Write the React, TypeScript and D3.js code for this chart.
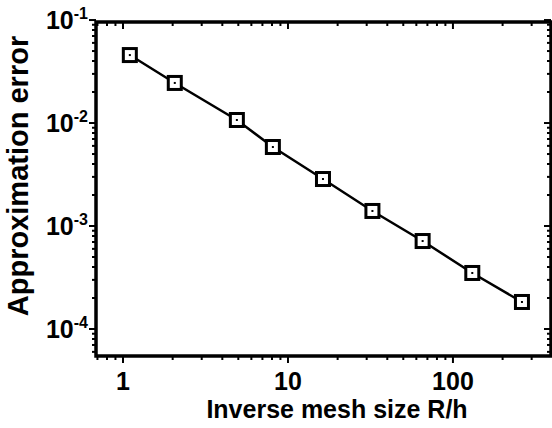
import React from "react";
import * as d3 from "d3";

const meshSizes = [1.1, 2.06, 4.9, 8.1, 16.3, 32.5, 65.5, 131, 262];
const errors = [0.0457, 0.0245, 0.0107, 0.00585, 0.00286, 0.0014, 0.000715, 0.00035, 0.000183];
const xTicks = [1, 10, 100];
const xTickLabels = ["1", "10", "100"];
const yTicks = [1e-1, 1e-2, 1e-3, 1e-4];
const yTickExps = ["-1", "-2", "-3", "-4"];
const xTitle = "Inverse mesh size R/h";
const yTitle = "Approximation error";

const W = 552;
const H = 428;
const L = 96, R = 551, T = 22, B = 356;
const FONT = "'Liberation Sans', Arial, sans-serif";

export default function App() {
  const x = d3.scaleLog().domain([0.686, 393]).range([L, R]);
  const y = d3.scaleLog().domain([5.47e-5, 0.0957]).range([B, T]);

  const xMinor: number[] = [];
  for (let d = 0.1; d <= 1000; d *= 10) {
    for (let k = 2; k <= 9; k++) {
      const v = d * k;
      if (v > 0.686 && v < 393) xMinor.push(v);
    }
  }
  const yMinor: number[] = [];
  for (let d = 1e-5; d <= 1; d *= 10) {
    for (let k = 2; k <= 9; k++) {
      const v = d * k;
      if (v > 5.47e-5 && v < 0.0957) yMinor.push(v);
    }
  }

  const line = d3
    .line<number>()
    .x((_, i) => x(meshSizes[i]))
    .y((d) => y(d));

  const major = 7, minor = 4;

  return (
    <svg
      width={W}
      height={H}
      style={{ position: "absolute", left: 0, top: 0, background: "#fff" }}
      fontFamily={FONT}
      fontWeight="bold"
    >
      <rect x={0} y={0} width={W} height={H} fill="#fff" />
      <g stroke="#000" strokeWidth={2}>
        {xTicks.map((t) => (
          <g key={"xt" + t}>
            <line x1={x(t)} x2={x(t)} y1={B} y2={B + major} />
            <line x1={x(t)} x2={x(t)} y1={T} y2={T + major} />
          </g>
        ))}
        {xMinor.map((t) => (
          <g key={"xm" + t}>
            <line x1={x(t)} x2={x(t)} y1={B} y2={B + minor} />
            <line x1={x(t)} x2={x(t)} y1={T} y2={T + minor} />
          </g>
        ))}
        {yTicks.map((t) => (
          <g key={"yt" + t}>
            <line x1={L - major} x2={L} y1={y(t)} y2={y(t)} />
            <line x1={R - major} x2={R} y1={y(t)} y2={y(t)} />
          </g>
        ))}
        {yMinor.map((t) => (
          <g key={"ym" + t}>
            <line x1={L - minor} x2={L} y1={y(t)} y2={y(t)} />
            <line x1={R - minor} x2={R} y1={y(t)} y2={y(t)} />
          </g>
        ))}
      </g>
      <rect x={L} y={T} width={R - L} height={B - T} fill="none" stroke="#000" strokeWidth={3.5} />
      <path d={line(errors) || ""} fill="none" stroke="#000" strokeWidth={2.5} />
      {meshSizes.map((m, i) => (
        <g key={"p" + i}>
          <rect x={x(m) - 6.5} y={y(errors[i]) - 6.5} width={13} height={13} fill="#fff" stroke="#000" strokeWidth={3} />
          <rect x={x(m) - 1} y={y(errors[i]) - 1} width={2} height={2} fill="#000" />
        </g>
      ))}
      {xTicks.map((t, i) => (
        <text key={"xl" + t} x={x(t)} y={390} textAnchor="middle" fontSize={25}>
          {xTickLabels[i]}
        </text>
      ))}
      {yTicks.map((t, i) => (
        <text key={"yl" + t} x={88} y={y(t) + 9} textAnchor="end" fontSize={25}>
          10
          <tspan fontSize={16} dy={-10}>
            {yTickExps[i]}
          </tspan>
        </text>
      ))}
      <text x={337} y={418} textAnchor="middle" fontSize={25}>
        {xTitle}
      </text>
      <text
        transform={`translate(28,176) rotate(-90)`}
        textAnchor="middle"
        fontSize={29}
      >
        {yTitle}
      </text>
    </svg>
  );
}
